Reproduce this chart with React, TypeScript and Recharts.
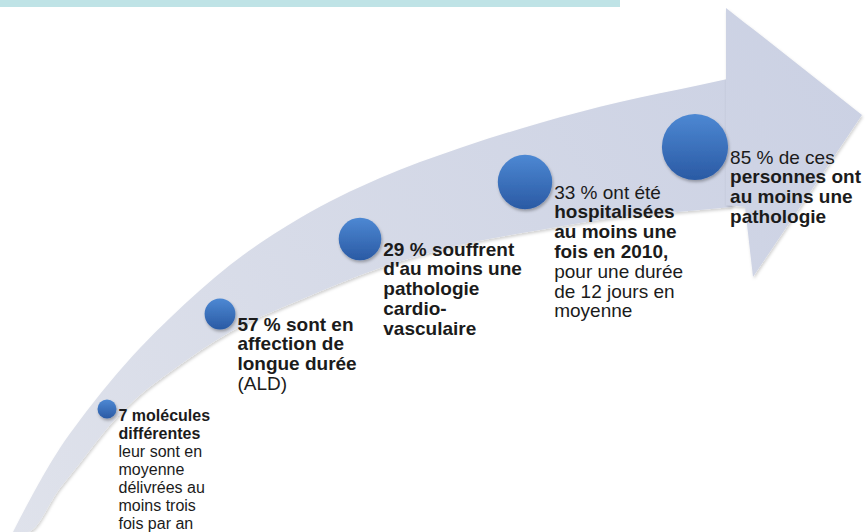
import React from "react";
import { ComposedChart, Area, Scatter, XAxis, YAxis, ReferenceArea } from "recharts";

// arrow outline (x along the page, y from the top)
const arrowX = [13, 27, 60, 80, 110, 140, 170, 230, 300, 380, 460, 540, 620, 700, 732];
const arrowTop = [532, 505, 448, 420, 382, 348, 318, 265, 218, 178, 148, 123, 102, 85, 78];
const arrowBottom = [532, 532, 488, 463, 425, 395, 372, 332, 300, 268, 245, 230, 217, 210, 207];

const headX = [726, 745, 753, 862];
const headTop = [8, 23, 29, 115];
const headBottom = [205, 207, 277, 115];

// the five steps
const stepX = [107, 220, 360, 525, 695];
const stepY = [409, 314, 239, 182, 147];
const stepLines = [
  ["7 molécules", "différentes", "leur sont en", "moyenne", "délivrées au", "moins trois", "fois par an"],
  ["57 % sont en", "affection de", "longue durée", "(ALD)"],
  ["29 % souffrent", "d'au moins une", "pathologie", "cardio-", "vasculaire"],
  ["33 % ont été", "hospitalisées", "au moins une", "fois en 2010,", "pour une durée", "de 12 jours en", "moyenne"],
  ["85 % de ces", "personnes ont", "au moins une", "pathologie"],
];
const stepBold = [
  [1, 1, 0, 0, 0, 0, 0],
  [1, 1, 1, 0],
  [1, 1, 1, 1, 1],
  [0, 1, 1, 1, 0, 0, 0],
  [0, 1, 1, 1],
];

const shaft = arrowX.map((x, i) => ({ x, lo: arrowBottom[i], hi: arrowTop[i] }));
const head = headX.map((x, i) => ({ x, lo: headBottom[i], hi: headTop[i] }));
const points = stepX.map((x, i) => ({ x, y: stepY[i], step: i + 1 }));

const radius = (step: number) => 3.6 + 5.9 * step;

function Step(props: any) {
  const { cx, cy, payload } = props;
  const i = payload.step - 1;
  const r = radius(payload.step);
  const small = i === 0;
  const fs = small ? 16 : 19;
  const lh = small ? 18 : 19.8;
  const top = small ? 6 : 10;
  return (
    <g>
      <circle cx={cx} cy={cy} r={r} fill="url(#ball)" filter="url(#ballShadow)" />
      {stepLines[i].map((t, k) => (
        <text
          key={k}
          x={cx + r + 2}
          y={cy + top + k * lh}
          dominantBaseline="central"
          fontSize={fs}
          fontWeight={stepBold[i][k] ? 700 : 400}
          fill="#1b1b1b"
          fontFamily="'Liberation Sans', Arial, sans-serif"
        >
          {t}
        </text>
      ))}
    </g>
  );
}

export default function App() {
  return (
    <div style={{ position: "absolute", left: 0, top: 0, background: "#fff" }}>
      <ComposedChart width={866} height={532} margin={{ top: 0, right: 0, bottom: 0, left: 0 }}>
        <defs>
          <linearGradient id="arrowFill" gradientUnits="userSpaceOnUse" x1="0" y1="532" x2="866" y2="0">
            <stop offset="0%" stopColor="#dfe2eb" />
            <stop offset="100%" stopColor="#cad0e3" />
          </linearGradient>
          <linearGradient id="ball" x1="0" y1="0" x2="0" y2="1">
            <stop offset="0%" stopColor="#4d88d3" />
            <stop offset="100%" stopColor="#2a5aa4" />
          </linearGradient>
          <filter id="ballShadow" x="-30%" y="-30%" width="160%" height="160%">
            <feDropShadow dx="1" dy="2" stdDeviation="1.5" floodColor="#000" floodOpacity="0.3" />
          </filter>
          <filter id="arrowShadow" x="-5%" y="-5%" width="110%" height="110%">
            <feDropShadow dx="1" dy="2" stdDeviation="1.5" floodColor="#000" floodOpacity="0.18" />
          </filter>
        </defs>
        <XAxis type="number" dataKey="x" domain={[0, 866]} hide allowDataOverflow />
        <YAxis type="number" domain={[0, 532]} reversed hide allowDataOverflow />
        <ReferenceArea x1={0} x2={620} y1={0} y2={7} fill="#bfe3e6" fillOpacity={1} stroke="none" />
        <Area
          data={shaft}
          dataKey={(d: any) => [d.lo, d.hi]}
          type="monotone"
          stroke="none"
          fill="url(#arrowFill)"
          fillOpacity={1}
          filter="url(#arrowShadow)"
          dot={false}
          activeDot={false}
          isAnimationActive={false}
        />
        <Area
          data={head}
          dataKey={(d: any) => [d.lo, d.hi]}
          type="linear"
          stroke="none"
          fill="url(#arrowFill)"
          fillOpacity={1}
          filter="url(#arrowShadow)"
          dot={false}
          activeDot={false}
          isAnimationActive={false}
        />
        <Scatter data={points} dataKey="y" shape={<Step />} isAnimationActive={false} />
      </ComposedChart>
    </div>
  );
}
